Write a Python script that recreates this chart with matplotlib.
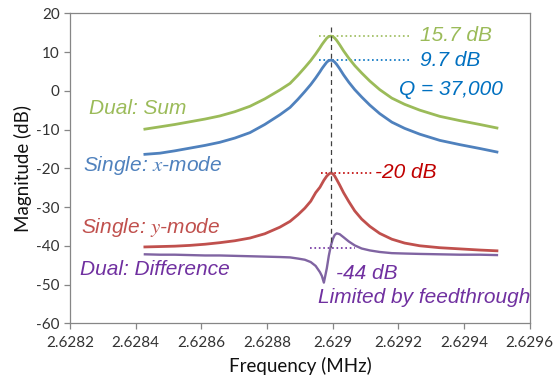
import matplotlib
matplotlib.use("Agg")
import matplotlib.pyplot as plt
from matplotlib.ticker import MultipleLocator

# frequency grid (MHz), denser around the resonance
freq = [
    2.628428, 2.628474, 2.628519, 2.628565, 2.628611, 2.628656, 2.628702,
    2.628748, 2.628793, 2.628839, 2.628870, 2.628894, 2.628915, 2.628933,
    2.628948, 2.628961, 2.628967, 2.628973, 2.628982, 2.628988, 2.628994,
    2.629000, 2.629006, 2.629012, 2.629021, 2.629033, 2.629049, 2.629067,
    2.629088, 2.629113, 2.629143, 2.629180, 2.629219, 2.629265, 2.629326,
    2.629387, 2.629448, 2.629500,
]

dual_sum = [
    -9.9, -9.3, -8.7, -8.0, -7.3, -6.5, -5.4,
    -4.0, -2.1, 0.2, 1.9, 4.0, 6.0, 7.8,
    9.5, 11.1, 11.9, 12.6, 13.6, 14.0, 14.1,
    14.0, 13.6, 13.0, 11.9, 10.3, 8.4, 6.5,
    4.6, 2.5, 0.3, -1.9, -3.5, -5.0, -6.6,
    -7.7, -8.7, -9.6,
]

single_x = [
    -16.4, -16.1, -15.5, -14.8, -14.1, -13.3, -12.2,
    -10.8, -8.7, -6.2, -4.3, -2.2, -0.2, 1.6,
    3.3, 4.9, 5.7, 6.4, 7.4, 7.8, 7.9,
    7.8, 7.4, 6.8, 5.7, 4.1, 2.2, 0.3,
    -1.6, -3.7, -5.9, -8.1, -9.7, -11.2, -12.8,
    -13.9, -14.9, -15.8,
]

single_y = [
    -40.3, -40.2, -40.1, -39.9, -39.6, -39.2, -38.7,
    -38.0, -36.9, -35.2, -33.7, -32.0, -30.3, -28.5,
    -26.3, -24.9, -24.0, -23.1, -22.0, -21.5, -21.2,
    -21.4, -22.0, -22.9, -24.3, -26.3, -28.6, -31.0,
    -33.1, -35.0, -36.8, -38.3, -39.3, -40.0, -40.5,
    -40.8, -41.1, -41.3,
]

dual_diff = [
    -42.2, -42.3, -42.3, -42.4, -42.5, -42.5, -42.6,
    -42.7, -42.8, -42.9, -43.0, -43.3, -43.6, -44.2,
    -45.2, -46.8, -47.8, -49.5, -45.8, -42.6, -40.1,
    -38.3, -37.2, -36.8, -37.0, -37.8, -38.9, -39.9,
    -40.7, -41.2, -41.6, -41.9, -42.0, -42.1, -42.2,
    -42.3, -42.3, -42.4,
]

x_ticks = [2.6282, 2.6284, 2.6286, 2.6288, 2.6290, 2.6292, 2.6294, 2.6296]
x_tick_labels = ["2.6282", "2.6284", "2.6286", "2.6288", "2.629",
                 "2.6292", "2.6294", "2.6296"]

f_res = 2.628994
peak_sum, peak_x, peak_y, diff_level = 14.1, 7.9, -21.2, -40.6

GREEN, BLUE, RED, PURPLE = "#9BBB59", "#4F81BD", "#C0504D", "#8064A2"
GREEN_T, BLUE_T, RED_T, PURPLE_T = "#9BBB59", "#0070C0", "#C00000", "#7030A0"

plt.rcParams["mathtext.fontset"] = "stix"
plt.rcParams["axes.unicode_minus"] = False

fig, ax = plt.subplots(figsize=(5.53, 3.79), dpi=100)
fig.subplots_adjust(left=0.1266, right=0.958, top=0.965, bottom=0.147)

ax.plot(freq, dual_sum, color=GREEN, lw=2.0, zorder=3, solid_joinstyle="round")
ax.plot(freq, single_x, color=BLUE, lw=2.0, zorder=3, solid_joinstyle="round")
ax.plot(freq, single_y, color=RED, lw=2.0, zorder=3, solid_joinstyle="round")
ax.plot(freq, dual_diff, color=PURPLE, lw=1.7, zorder=3, solid_joinstyle="round")

# resonance marker and level guides
ax.plot([f_res, f_res], [16.5, -40.2], color="#404040", lw=0.9, ls=(0, (4, 3)), zorder=4)
ax.plot([2.628958, 2.629232], [peak_sum, peak_sum], color=GREEN_T, lw=1.2, ls=":", zorder=2)
ax.plot([2.628959, 2.629232], [peak_x, peak_x], color=BLUE_T, lw=1.2, ls=":", zorder=2)
ax.plot([2.628964, 2.629123], [peak_y, peak_y], color=RED_T, lw=1.2, ls=":", zorder=2)
ax.plot([2.628932, 2.629069], [diff_level, diff_level], color=PURPLE_T, lw=1.2, ls=":", zorder=2)

txt = dict(family="Liberation Sans", style="italic", fontsize=15, ha="left", va="center")
ax.text(2.628258, -4.5, "Dual: Sum", color=GREEN, **txt)
ax.text(2.628239, -19.3, "Single: $x$-mode", color=BLUE, **txt)
ax.text(2.628233, -35.3, "Single: $y$-mode", color=RED, **txt)
ax.text(2.628230, -46.2, "Dual: Difference", color=PURPLE_T, **txt)
ax.text(2.629265, 14.2, "15.7 dB", color=GREEN_T, **txt)
ax.text(2.629265, 7.9, "9.7 dB", color=BLUE_T, **txt)
ax.text(2.629201, 0.2, "Q = 37,000", color=BLUE_T, **txt)
ax.text(2.629128, -21.2, "-20 dB", color=RED_T, **txt)
ax.text(2.629010, -47.1, "-44 dB", color=PURPLE_T, **txt)
ax.text(2.628954, -53.3, "Limited by feedthrough", color=PURPLE_T, **txt)

ax.set_xlim(2.6282, 2.6296)
ax.set_ylim(-60, 20)
ax.set_xticks(x_ticks)
ax.set_xticklabels(x_tick_labels)
ax.yaxis.set_major_locator(MultipleLocator(10))

for side in ["top", "right", "left", "bottom"]:
    ax.spines[side].set_color("#868686")
    ax.spines[side].set_linewidth(0.9)
ax.tick_params(axis="both", direction="out", length=4, width=0.9, color="#868686",
               labelsize=11, labelcolor="#333333")
ax.tick_params(axis="x", pad=5)
for lab in ax.get_xticklabels() + ax.get_yticklabels():
    lab.set_family("Lato")

ax.set_xlabel("Frequency (MHz)", fontsize=13.5, family="Lato", color="#111111", labelpad=5)
ax.set_ylabel("Magnitude (dB)", fontsize=13.5, family="Lato", color="#111111", labelpad=3)

fig.savefig("out.png", dpi=100, facecolor="white")
